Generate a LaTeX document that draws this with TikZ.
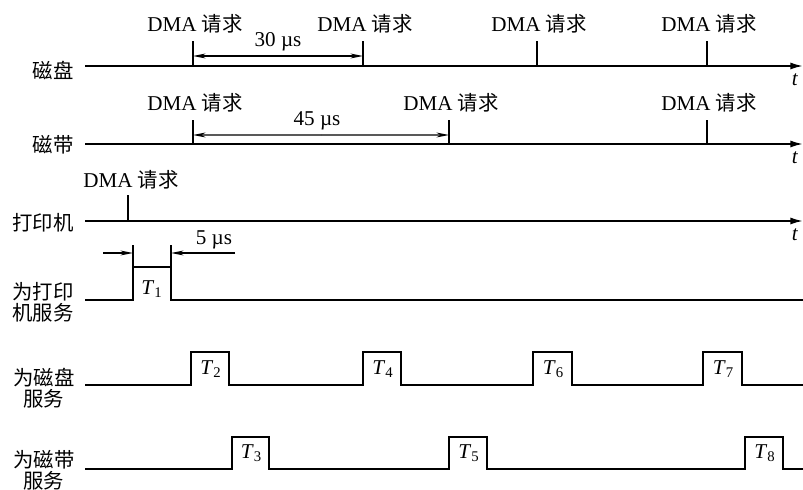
\documentclass[tikz,border=0pt]{standalone}
\usepackage{fontspec}
\setmainfont{Liberation Serif}
\newfontfamily\cjk{Noto Sans CJK SC}
\usetikzlibrary{arrows.meta,positioning,calc}

\begin{document}
\begin{tikzpicture}[x=0.025cm, y=-0.025cm,
    every node/.style={font=\fontsize{15}{16}\selectfont, inner sep=1pt},
    axis/.style={line width=1.3pt, -{Latex[length=9pt,width=5pt]}},
    wave/.style={line width=1.3pt},
    reqtick/.style={line width=1.3pt},
    dimline/.style={line width=0.8pt, -{Stealth[length=9pt,width=3.5pt]}},
    extline/.style={line width=0.8pt},
    rowlabel/.style={font=\cjk\fontsize{14.5}{15}\selectfont, align=center}]
    \useasboundingbox (0,0) rectangle (803,490);
    % time axes
    \node[rowlabel] (disk) at (53,70) {磁盘};
    \node[rowlabel] (tape) at (53,145) {磁带};
    \node[rowlabel] (prn) at (43,223) {打印机};
    \draw[axis] (85,66) -- (803,66);
    \draw[axis] (85,144) -- (803,144);
    \draw[axis] (85,221) -- (803,221);
    \node (tdisk) at (795,80) {\textit{t}};
    \node (ttape) at (795,158) {\textit{t}};
    \node (tprn) at (795,235) {\textit{t}};
    % DMA requests
    \foreach \x in {193,363,537,707} {
        \draw[reqtick] (\x,66) -- (\x,41) coordinate (dk\x);
        \node (dreq\x) at (\x+2,24) {DMA {\cjk\fontsize{14.5}{15}\selectfont 请求}};
    }
    \foreach \x in {193,449,707} {
        \draw[reqtick] (\x,144) -- (\x,120) coordinate (tp\x);
        \node (treq\x) at (\x+2,103) {DMA {\cjk\fontsize{14.5}{15}\selectfont 请求}};
    }
    \draw[reqtick] (128,221) -- (128,195) coordinate (pr128);
    \node (preq) at (131,180) {DMA {\cjk\fontsize{14.5}{15}\selectfont 请求}};
    % intervals
    \coordinate (a30) at (193,56);
    \coordinate (b30) at (363,56);
    \draw[dimline] ($(a30)!0.5!(b30)$) -- (b30);
    \draw[dimline] ($(a30)!0.5!(b30)$) -- (a30);
    \node (l30) at (278,42) {30 µs};
    \coordinate (a45) at (193,135);
    \coordinate (b45) at (449,135);
    \draw[dimline] ($(a45)!0.5!(b45)$) -- (b45);
    \draw[dimline] ($(a45)!0.5!(b45)$) -- (a45);
    \node (l45) at (317,121) {45 µs};
    % service waveforms
    \node[rowlabel] (sprn) at (43,302) {为打印\\机服务};
    \node[rowlabel] (sdisk) at (44,388) {为磁盘\\服务};
    \node[rowlabel] (stape) at (44,470) {为磁带\\服务};
    \draw[wave] (85,300) -| (133,267) -| (171,300) -- (803,300);
    \node (T1) at (152,289) {\textit{T}\textsubscript{1}};
    \draw[wave] (85,385) \foreach \a/\b in {191/229,363/401,533/572,703/742} { -| (\a,352) -| (\b,385) } -- (803,385);
    \foreach \a/\b/\n in {191/229/2,363/401/4,533/572/6,703/742/7}
        \node (T\n) at ({(\a+\b)/2+1},369) {\textit{T}\textsubscript{\n}};
    \draw[wave] (85,469) \foreach \a/\b in {232/269,449/487,745/783} { -| (\a,437) -| (\b,469) } -- (803,469);
    \foreach \a/\b/\n in {232/269/3,449/487/5,745/783/8}
        \node (T\n) at ({(\a+\b)/2+1},453) {\textit{T}\textsubscript{\n}};
    % 5 us
    \coordinate (e1) at (133,245);
    \coordinate (e2) at (171,245);
    \draw[extline] (133,267) -- (e1);
    \draw[extline] (171,267) -- (e2);
    \coordinate (f1) at (103,253);
    \coordinate (f2) at (235,253);
    \draw[dimline] (f1) -- (133,253);
    \draw[dimline] (f2) -- (171,253);
    \node (l5) at (214,240) {5 µs};
\end{tikzpicture}
\end{document}
